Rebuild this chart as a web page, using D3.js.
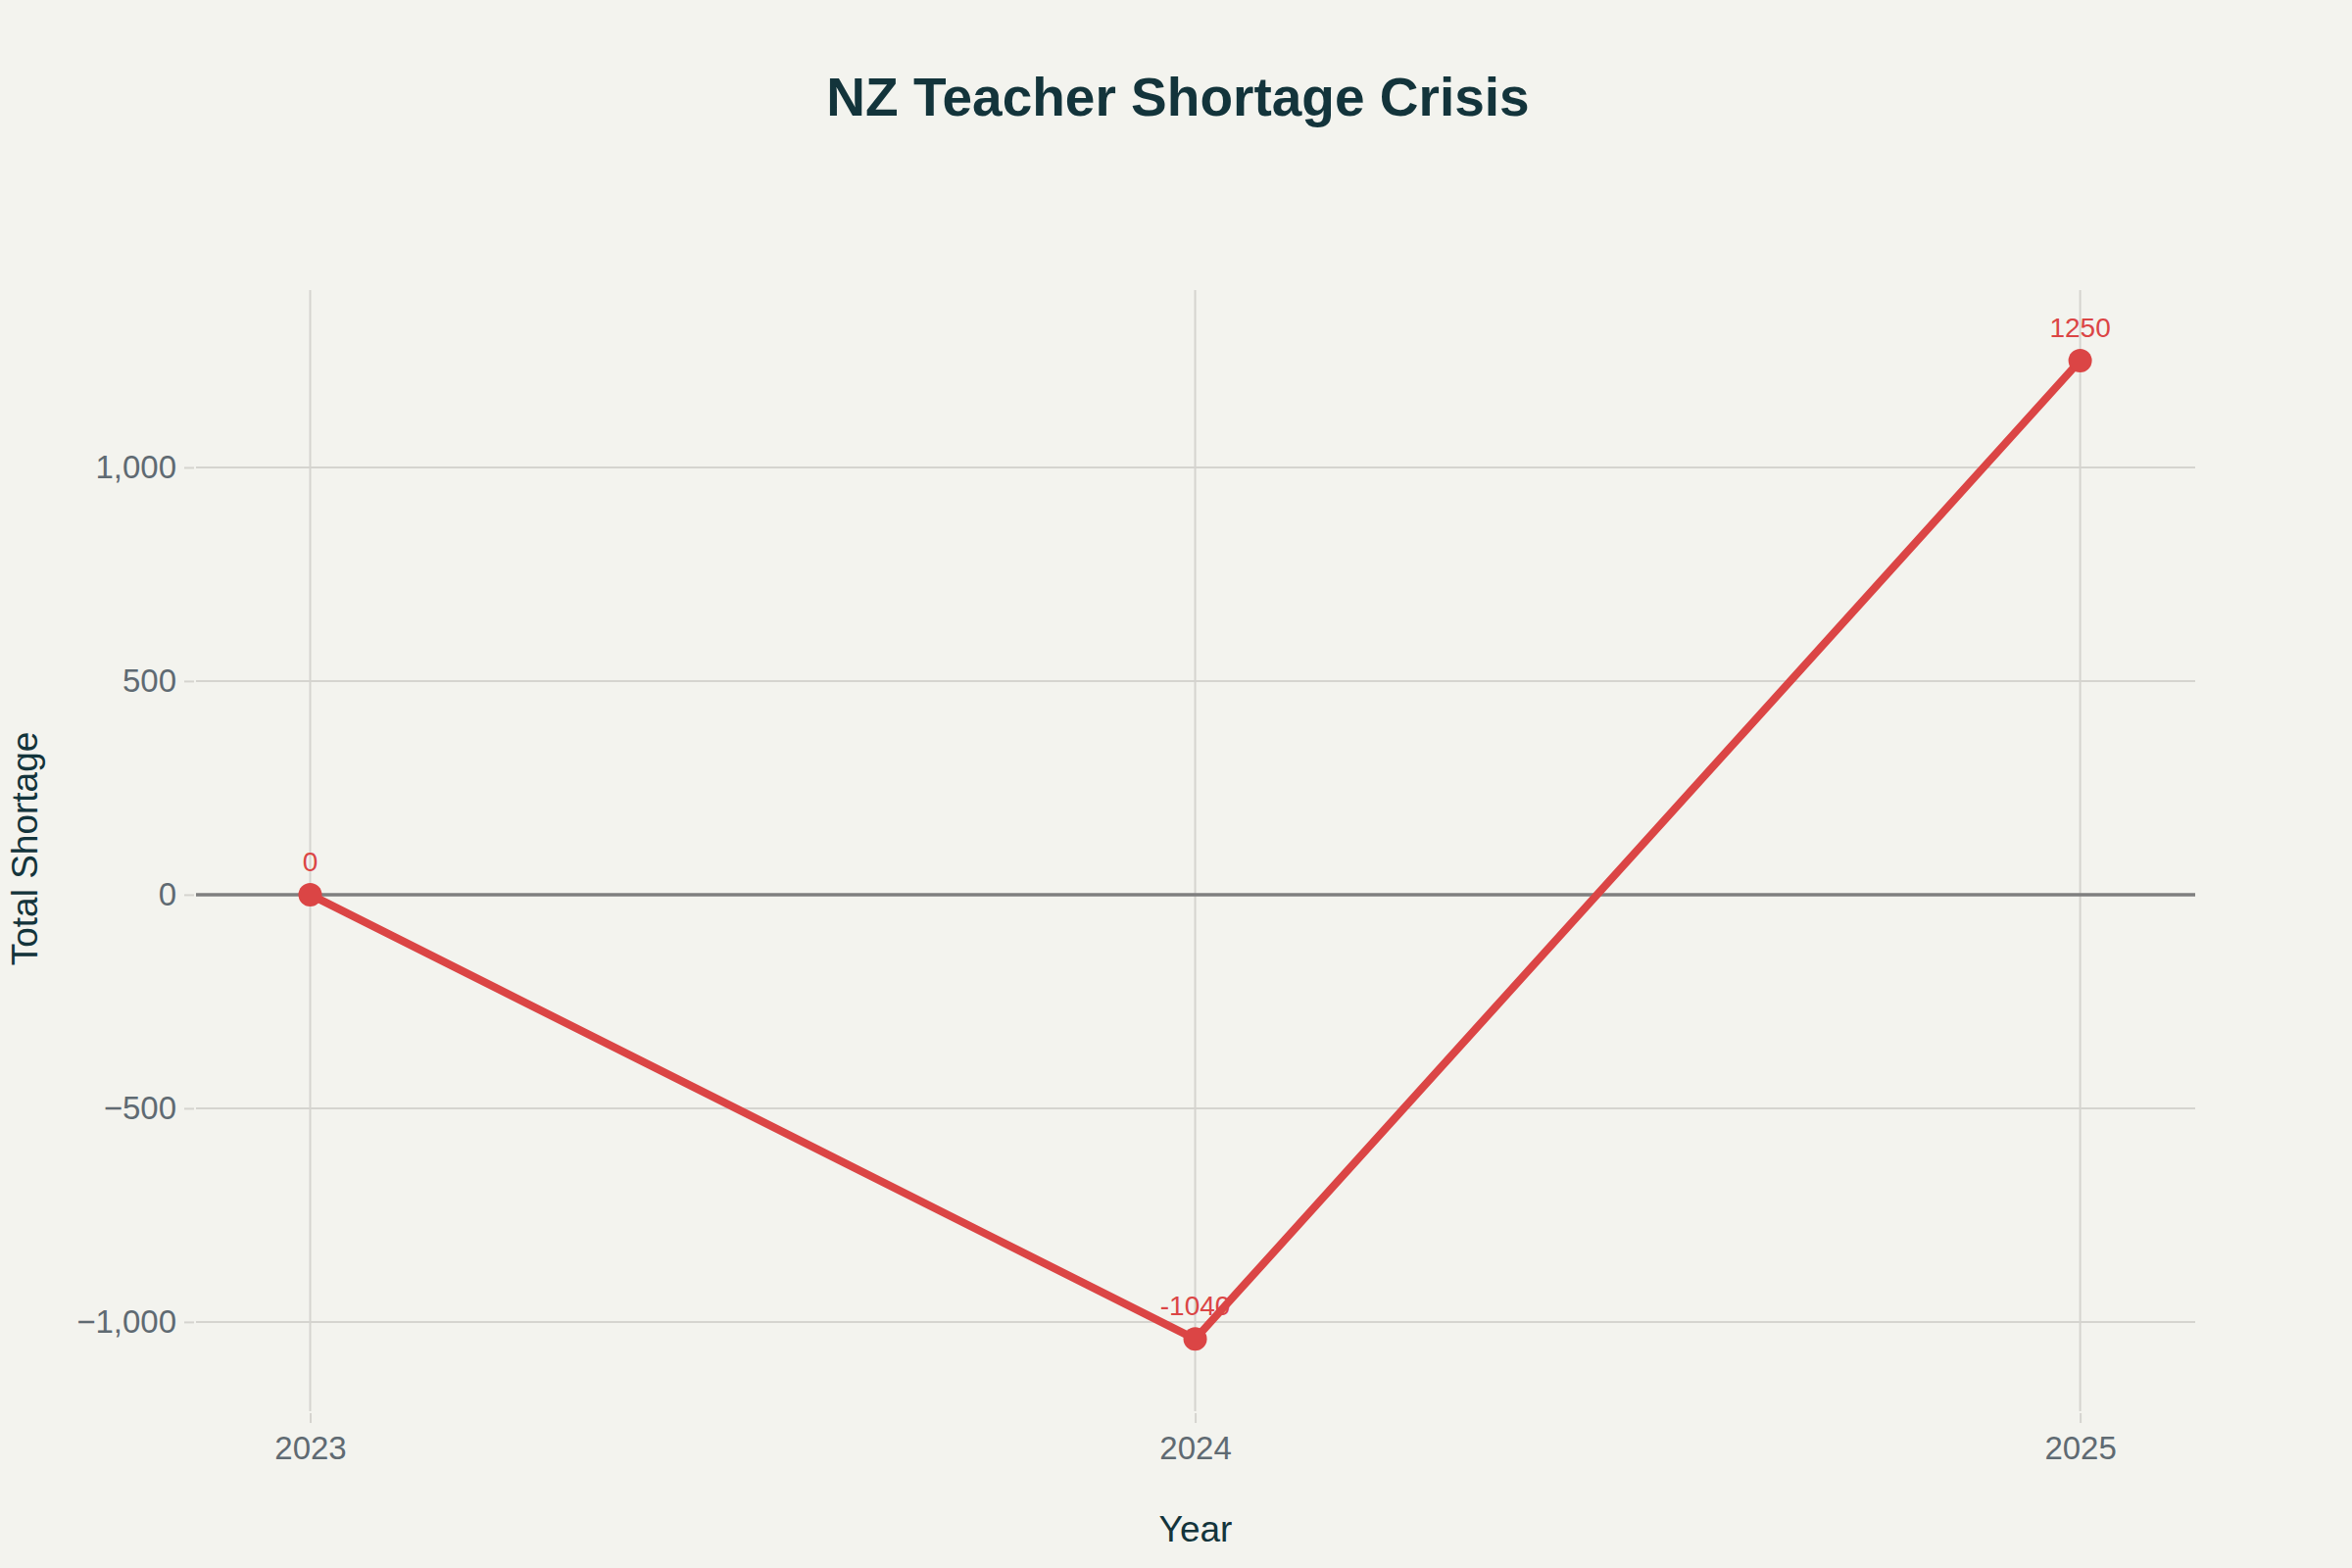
<!DOCTYPE html>
<html>
<head>
<meta charset="utf-8">
<script src="https://cdn.jsdelivr.net/npm/d3@7/dist/d3.min.js"></script>
<style>
  html, body { margin: 0; padding: 0; background: #f3f3ee; }
  svg { display: block; }
  text { font-family: "Liberation Sans", Arial, sans-serif; }
</style>
</head>
<body>
<script>
// ---- data ----
const years = [2023, 2024, 2025];
const shortage = [0, -1040, 1250];
const yTickValues = [-1000, -500, 0, 500, 1000];
const xTickValues = [2023, 2024, 2025];
const titleText = "NZ Teacher Shortage Crisis";
const xTitle = "Year";
const yTitle = "Total Shortage";

// ---- layout ----
const W = 2400, H = 1600;
const plot = { left: 200, right: 2240, top: 296, bottom: 1440 };
const red = "#db4545";

const svg = d3.select("body").append("svg").attr("width", W).attr("height", H);
svg.append("rect").attr("width", W).attr("height", H).attr("fill", "#f3f3ee");

const x = d3.scaleLinear().domain([2022.871, 2025.13]).range([plot.left, plot.right]);
const y = d3.scaleLinear().domain([-1209, 1415]).range([plot.bottom, plot.top]);

// grid lines
const grid = svg.append("g");
grid.selectAll("line.h").data(yTickValues.filter(v => v !== 0)).join("line")
  .attr("x1", plot.left).attr("x2", plot.right)
  .attr("y1", d => y(d)).attr("y2", d => y(d))
  .attr("stroke", "#d5d4cf").attr("stroke-width", 2);
grid.selectAll("line.v").data(xTickValues).join("line")
  .attr("y1", plot.top).attr("y2", plot.bottom)
  .attr("x1", d => x(d)).attr("x2", d => x(d))
  .attr("stroke", "#d5d4cf").attr("stroke-width", 2);

// zero line
svg.append("line")
  .attr("x1", plot.left).attr("x2", plot.right)
  .attr("y1", y(0)).attr("y2", y(0))
  .attr("stroke", "#7f7f7f").attr("stroke-width", 3.5);

// y axis
const yAxis = d3.axisLeft(y).tickValues(yTickValues).tickSize(10).tickPadding(8)
  .tickFormat(d => d3.format(",")(d).replace("-", "\u2212"));
const yg = svg.append("g").attr("transform", `translate(${plot.left - 2},0)`).call(yAxis);
yg.select(".domain").remove();
yg.selectAll(".tick line").attr("stroke", "#d5d4cf").attr("stroke-width", 2);
yg.selectAll(".tick text").attr("fill", "#5f6a72").attr("font-size", 33)
  .attr("font-family", "Liberation Sans, Arial, sans-serif");

// x axis
const xAxis = d3.axisBottom(x).tickValues(xTickValues).tickSize(10).tickPadding(14)
  .tickFormat(d3.format("d"));
const xg = svg.append("g").attr("transform", `translate(0,${plot.bottom + 2})`).call(xAxis);
xg.select(".domain").remove();
xg.selectAll(".tick line").attr("stroke", "#d5d4cf").attr("stroke-width", 2);
xg.selectAll(".tick text").attr("fill", "#5f6a72").attr("font-size", 33)
  .attr("font-family", "Liberation Sans, Arial, sans-serif");

// line
const pts = years.map((yr, i) => ({ yr, v: shortage[i] }));
svg.append("path").datum(pts)
  .attr("d", d3.line().x(d => x(d.yr)).y(d => y(d.v)))
  .attr("fill", "none").attr("stroke", red).attr("stroke-width", 8)
  .attr("stroke-linejoin", "round");

svg.selectAll("circle.pt").data(pts).join("circle")
  .attr("cx", d => x(d.yr)).attr("cy", d => y(d.v)).attr("r", 12)
  .attr("fill", red);

svg.selectAll("text.lbl").data(pts).join("text")
  .attr("x", d => x(d.yr)).attr("y", d => y(d.v) - 24)
  .attr("text-anchor", "middle").attr("font-size", 28).attr("fill", red)
  .text(d => String(d.v));

// titles
svg.append("text").attr("x", 1202).attr("y", 118).attr("text-anchor", "middle")
  .attr("font-size", 55).attr("font-weight", "bold").attr("fill", "#13343b")
  .text(titleText);

svg.append("text").attr("x", 1220).attr("y", 1573).attr("text-anchor", "middle")
  .attr("font-size", 37).attr("fill", "#13343b").text(xTitle);

svg.append("text").attr("transform", "translate(38,866) rotate(-90)")
  .attr("text-anchor", "middle").attr("font-size", 37).attr("fill", "#13343b").text(yTitle);
</script>
</body>
</html>
